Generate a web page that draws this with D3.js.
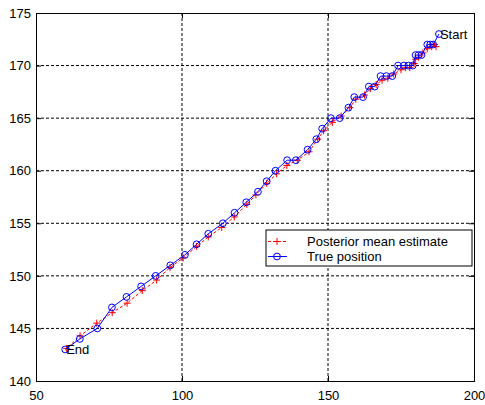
<!DOCTYPE html>
<html><head><meta charset="utf-8">
<script src="https://cdn.jsdelivr.net/npm/d3@7"></script>
<style>body{margin:0;background:#fff;} text{font-family:"Liberation Sans",Arial,sans-serif;}</style>
</head><body><svg id="c" width="485" height="405"></svg>
<script>
const trueX = [188,186,185,184,182,181,180,179,177.5,176,174,172,170,168,166,164,162,159,157,154,151,148,146,143,139,136,132,129,126,122,118,114,109,105,101,96,91,86,81,76,71,65,60];
const trueY = [173,172,172,172,171,171,171,170,170,170,170,169,169,169,168,168,167,167,166,165,165,164,163,162,161,161,160,159,158,157,156,155,154,153,152,151,150,149,148,147,145,144,143];
const estX = [187,186.5,185.5,184,182.5,181,180,179.5,178,176.5,175,172.5,170.5,168.5,166.5,164.5,162.5,159.5,157.5,154.5,151.5,148.5,146.5,143.5,139.5,135.9,132.4,129,125.3,122.2,117.9,113.6,109,105,100.4,95.9,91.3,86.4,81.2,76.1,70.8,65.1,60.5];
const estY = [171.8,172,171.8,171.6,171.2,170.8,170.6,170.2,169.8,169.8,169.6,169.2,168.8,168.6,168.2,167.8,167.2,166.8,166,165.2,164.6,163.8,163,161.8,161,160.5,159.7,158.8,157.7,156.8,155.6,154.6,153.7,152.8,151.7,150.8,149.6,148.6,147.4,146.5,145.5,144.3,143.1];
const xTicks = [50,100,150,200];
const yTicks = [140,145,150,155,160,165,170,175];
const legendLabels = ["Posterior mean estimate","True position"];
const annotations = [{i:0,label:"Start"},{i:42,label:"End"}];

const L=36,R=474,T=13,B=381;
const svg=d3.select("#c");
const x=d3.scaleLinear().domain([50,200]).range([L,R]);
const y=d3.scaleLinear().domain([140,175]).range([B,T]);

// grid
const g=svg.append("g");
xTicks.slice(1,-1).forEach(v=>g.append("line").attr("x1",x(v)).attr("x2",x(v)).attr("y1",T).attr("y2",B)
  .attr("stroke","#000").attr("stroke-width",1).attr("stroke-dasharray","3,2"));
yTicks.slice(1,-1).forEach(v=>g.append("line").attr("x1",L).attr("x2",R).attr("y1",y(v)).attr("y2",y(v))
  .attr("stroke","#000").attr("stroke-width",1).attr("stroke-dasharray","3,2"));

// axes
const ax=svg.append("g").attr("transform",`translate(0,${B})`).call(d3.axisBottom(x).tickValues(xTicks).tickSize(-5).tickPadding(10).tickFormat(d3.format("d")));
const ay=svg.append("g").attr("transform",`translate(${L},0)`).call(d3.axisLeft(y).tickValues(yTicks).tickSize(-5).tickPadding(5).tickFormat(d3.format("d")));
const at=svg.append("g").attr("transform",`translate(0,${T})`).call(d3.axisTop(x).tickValues(xTicks).tickSize(-5).tickFormat(""));
const ar=svg.append("g").attr("transform",`translate(${R},0)`).call(d3.axisRight(y).tickValues(yTicks).tickSize(-5).tickFormat(""));
[ax,ay,at,ar].forEach(a=>{a.select(".domain").attr("stroke","#000");a.selectAll("text").attr("font-size",13).attr("fill","#000").attr("font-family","Liberation Sans, Arial, sans-serif");});

const est=estX.map((v,i)=>[v,estY[i]]);
const tru=trueX.map((v,i)=>[v,trueY[i]]);
const line=d3.line().x(d=>x(d[0])).y(d=>y(d[1]));

svg.append("path").attr("d",line(est)).attr("fill","none").attr("stroke","#ff0000").attr("stroke-width",1).attr("stroke-dasharray","3,2");
svg.append("g").selectAll("path").data(est).join("path")
  .attr("d",d=>`M${x(d[0])-3.5},${y(d[1])}h7M${x(d[0])},${y(d[1])-3.5}v7`).attr("stroke","#ff0000").attr("stroke-width",1);
svg.append("path").attr("d",line(tru)).attr("fill","none").attr("stroke","#0000ff").attr("stroke-width",1);
svg.append("g").selectAll("circle").data(tru).join("circle")
  .attr("cx",d=>x(d[0])).attr("cy",d=>y(d[1])).attr("r",3.4).attr("fill","none").attr("stroke","#0000ff").attr("stroke-width",1);

annotations.forEach(a=>svg.append("text").attr("x",x(trueX[a.i])+1).attr("y",y(trueY[a.i])).attr("dy","0.35em")
  .attr("font-size",13).attr("fill","#000").text(a.label));

// legend
const lg=svg.append("g");
lg.append("rect").attr("x",266).attr("y",230).attr("width",206).attr("height",36).attr("fill","#fff").attr("stroke","#000");
const ly=[241.5,256.5];
lg.append("line").attr("x1",268).attr("x2",287).attr("y1",ly[0]).attr("y2",ly[0]).attr("stroke","#ff0000").attr("stroke-dasharray","3,2");
lg.append("path").attr("d",`M273.5,${ly[0]}h7M277,${ly[0]-3.5}v7`).attr("stroke","#ff0000");
lg.append("line").attr("x1",268).attr("x2",287).attr("y1",ly[1]).attr("y2",ly[1]).attr("stroke","#0000ff");
lg.append("circle").attr("cx",277).attr("cy",ly[1]).attr("r",3.4).attr("fill","none").attr("stroke","#0000ff");
legendLabels.forEach((t,i)=>lg.append("text").attr("x",307).attr("y",ly[i]).attr("dy","0.35em").attr("font-size",13).attr("fill","#000").text(t));
</script></body></html>
